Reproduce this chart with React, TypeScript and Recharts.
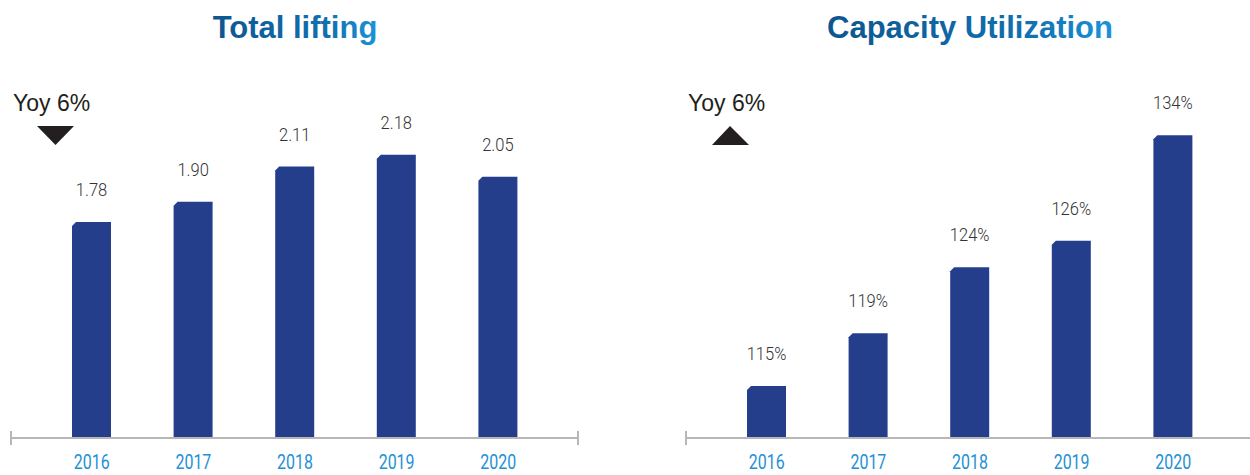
import React from 'react';
import { BarChart, Bar, XAxis, YAxis, LabelList } from 'recharts';

const years = ['2016', '2017', '2018', '2019', '2020'];
const liftingValues = [1.78, 1.9, 2.11, 2.18, 2.05];
const utilizationValues = [115, 119, 124, 126, 134];

const liftingTitle = 'Total lifting';
const utilizationTitle = 'Capacity Utilization';
const yoyText = 'Yoy 6%';

const BAR_COLOR = '#253e8c';
const AXIS_COLOR = '#b7b7b7';

// bar with a small chamfer on the top-left corner
function CutBar(props: any) {
  const { x, y, width, height, fill } = props;
  if (!height || height <= 0) return null;
  const c = 4;
  return (
    <path
      d={`M${x},${y + c} L${x + c},${y} L${x + width},${y} L${x + width},${y + height} L${x},${y + height} Z`}
      fill={fill}
    />
  );
}

function YearTick(props: any) {
  const { x, y, payload } = props;
  return (
    <text
      transform={`translate(${x},${y + 23}) scale(0.76,1)`}
      textAnchor="middle"
      fontFamily="Roboto"
      fontSize={21}
      fill="#2490d6"
    >
      {payload.value}
    </text>
  );
}

function makeValueLabel(format: (v: number) => string) {
  return (props: any) => {
    const { x, y, width, value } = props;
    return (
      <text
        transform={`translate(${x + width / 2},${y - 26}) scale(0.87,1)`}
        textAnchor="middle"
        fontFamily="Roboto"
        fontWeight={300}
        fontSize={19}
        fill="#333333"
      >
        {format(value)}
      </text>
    );
  };
}

interface PanelProps {
  id: string;
  left: number;
  title: string;
  values: number[];
  domain: [number, number];
  up: boolean;
  format: (v: number) => string;
}

function Panel({ id, left, title, values, domain, up, format }: PanelProps) {
  const data = years.map((year, i) => ({ year, value: values[i] }));
  const tri = up ? '37,145 55,126 74,145' : '37,126 74,126 55.5,145';

  return (
    <div style={{ position: 'absolute', left, top: 0, width: 600, height: 475 }}>
      <BarChart width={600} height={475} data={data} margin={{ top: 51, right: 22, left: 11, bottom: 0 }}>
        <XAxis
          dataKey="year"
          height={37}
          padding={{ left: 30, right: 29 }}
          axisLine={{ stroke: AXIS_COLOR, strokeWidth: 2 }}
          tickLine={false}
          interval={0}
          tick={<YearTick />}
        />
        <YAxis hide type="number" domain={domain} allowDataOverflow />
        <Bar dataKey="value" fill={BAR_COLOR} barSize={39} shape={<CutBar />} isAnimationActive={false}>
          <LabelList dataKey="value" content={makeValueLabel(format)} />
        </Bar>
      </BarChart>
      <svg width={600} height={475} style={{ position: 'absolute', left: 0, top: 0, pointerEvents: 'none' }}>
        <defs>
          <linearGradient id={`grad-${id}`} x1="0" y1="0" x2="1" y2="0">
            <stop offset="0%" stopColor="#0c5690" />
            <stop offset="70%" stopColor="#1170b0" />
            <stop offset="100%" stopColor="#1b93d8" />
          </linearGradient>
        </defs>
        <text
          x={295}
          y={38}
          textAnchor="middle"
          fontFamily="Liberation Sans"
          fontWeight="bold"
          fontSize={31}
          fill={`url(#grad-${id})`}
        >
          {title}
        </text>
        <text x={13} y={111} fontFamily="Liberation Sans" fontSize={23} fill="#231f20">
          {yoyText}
        </text>
        <polygon points={tri} fill="#231f20" />
        <line x1={11} x2={11} y1={431} y2={445} stroke={AXIS_COLOR} strokeWidth={2} />
        <line x1={578} x2={578} y1={431} y2={445} stroke={AXIS_COLOR} strokeWidth={2} />
      </svg>
    </div>
  );
}

export default function App() {
  return (
    <div
      style={{
        position: 'absolute',
        left: 0,
        top: 0,
        width: 1250,
        height: 475,
        overflow: 'hidden',
        background: '#ffffff',
      }}
    >
      <Panel
        id="lifting"
        left={0}
        title={liftingTitle}
        values={liftingValues}
        domain={[0.49, 2.8]}
        up={false}
        format={(v) => v.toFixed(2)}
      />
      <Panel
        id="util"
        left={675}
        title={utilizationTitle}
        values={utilizationValues}
        domain={[111.06, 140.38]}
        up={true}
        format={(v) => `${v}%`}
      />
    </div>
  );
}
